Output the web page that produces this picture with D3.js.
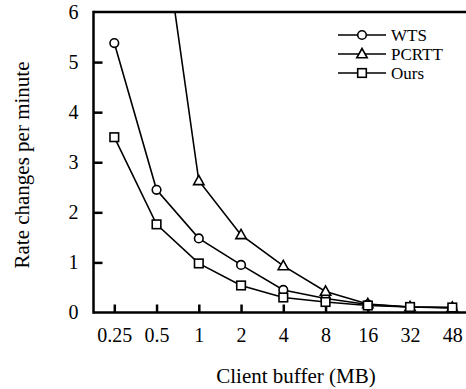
<!DOCTYPE html>
<html><head><meta charset="utf-8">
<script src="https://cdn.jsdelivr.net/npm/d3@7"></script>
<style>body{margin:0;background:#fff;}svg{display:block;}</style>
</head><body>
<svg id="c" width="466" height="389"></svg>
<script>
const categories = ["0.25","0.5","1","2","4","8","16","32","48"];
const wts   = [5.38, 2.45, 1.48, 0.95, 0.45, 0.28, 0.16, 0.11, 0.09];
const pcrtt = [14.0, 8.6, 2.63, 1.55, 0.93, 0.42, 0.17, 0.11, 0.10];
const ours  = [3.50, 1.76, 0.98, 0.54, 0.30, 0.21, 0.14, 0.11, 0.10];
const yTicks = [0,1,2,3,4,5,6];
const seriesNames = ["WTS","PCRTT","Ours"];
const seriesData = [wts, pcrtt, ours];
const markers = ["circle","triangle","square"];

const FONT = "'Liberation Serif', 'Times New Roman', Times, serif";
const svg = d3.select("#c").attr("font-family", FONT);
const L = 93.5, T = 12, B = 312.5, R = 470;
const x = d3.scalePoint().domain(categories).range([114.3, 452.3]);
const y = d3.scaleLinear().domain([0,6]).range([B, T]);

svg.append("defs").append("clipPath").attr("id","clip")
  .append("rect").attr("x",L).attr("y",T).attr("width",R-L).attr("height",B-T);

svg.append("line").attr("x1",L).attr("x2",R).attr("y1",T).attr("y2",T).attr("stroke","#000").attr("stroke-width",2.5);
svg.append("line").attr("x1",L).attr("x2",R).attr("y1",B).attr("y2",B).attr("stroke","#000").attr("stroke-width",2.5);
svg.append("line").attr("x1",L).attr("x2",L).attr("y1",T-1.25).attr("y2",B+1.25).attr("stroke","#000").attr("stroke-width",2.5);

const yAxis = d3.axisLeft(y).tickValues(yTicks).tickSize(-9).tickPadding(15).tickFormat(d3.format("d"));
const gy = svg.append("g").attr("transform",`translate(${L},0)`).call(yAxis)
  .attr("font-family", FONT).attr("font-size", 20);
gy.select(".domain").remove();
gy.selectAll(".tick line").attr("stroke","#000").attr("stroke-width",2.5);
gy.selectAll(".tick text").attr("fill","#000");
gy.selectAll(".tick").filter(d=>d===0||d===6).select("line").remove();

const xAxis = d3.axisBottom(x).tickSize(-8).tickPadding(15);
const gx = svg.append("g").attr("transform",`translate(0,${B})`).call(xAxis)
  .attr("font-family", FONT).attr("font-size", 20);
gx.select(".domain").remove();
gx.selectAll(".tick line").attr("stroke","#000").attr("stroke-width",2.5);
gx.selectAll(".tick text").attr("fill","#000");

svg.append("text").attr("x",296).attr("y",383).attr("text-anchor","middle").attr("font-size",21).text("Client buffer (MB)");
svg.append("text").attr("transform","translate(29,165) rotate(-90)").attr("text-anchor","middle").attr("font-size",21).text("Rate changes per minute");

function drawMarker(g, type, cx, cy) {
  if (type==="circle") g.append("circle").attr("cx",cx).attr("cy",cy).attr("r",4.3);
  else if (type==="square") g.append("rect").attr("x",cx-4.3).attr("y",cy-4.3).attr("width",8.6).attr("height",8.6);
  else g.append("path").attr("d",`M${cx},${cy-5.5}L${cx+5.2},${cy+3.8}L${cx-5.2},${cy+3.8}Z`);
}

const plot = svg.append("g").attr("clip-path","url(#clip)");
const line = d3.line().x((d,i)=>x(categories[i])).y(d=>y(d));
seriesData.forEach((vals) => {
  plot.append("path").attr("d", line(vals)).attr("fill","none").attr("stroke","#000").attr("stroke-width",1.6);
});
seriesData.forEach((vals, si) => {
  const g = plot.append("g").attr("fill","#fff").attr("stroke","#000").attr("stroke-width",1.6);
  vals.forEach((v,i) => drawMarker(g, markers[si], x(categories[i]), y(v)));
});

const legY = [35, 54, 73];
seriesNames.forEach((n, i) => {
  const g = svg.append("g").attr("fill","#fff").attr("stroke","#000").attr("stroke-width",1.6);
  g.append("line").attr("x1",338).attr("x2",386).attr("y1",legY[i]).attr("y2",legY[i]);
  drawMarker(g, markers[i], 362, legY[i]);
  svg.append("text").attr("x",391).attr("y",legY[i]).attr("dy","0.35em").attr("font-size",17).text(n);
});
</script>
</body></html>
